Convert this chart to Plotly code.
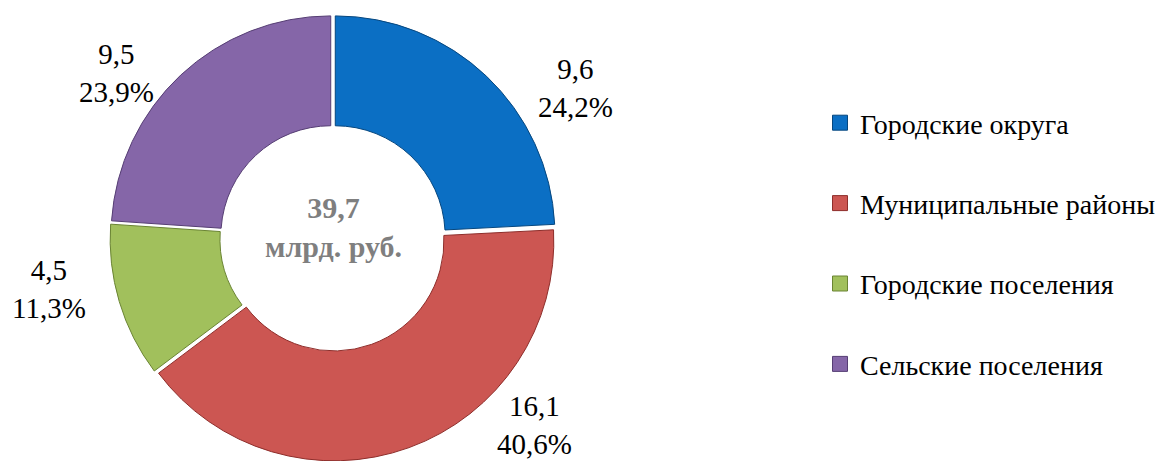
import plotly.graph_objects as go

# ---- data ----
categories = ["Городские округа", "Муниципальные районы", "Городские поселения", "Сельские поселения"]
values = [9.6, 16.1, 4.5, 9.5]
unit = "млрд. руб."

# ---- styles ----
colors = ["#0B6FC4", "#CC5652", "#A1C05C", "#8566A8"]
edge_colors = ["#06477F", "#8E2E2B", "#6A8433", "#563E74"]
label_pos_px = [(575, 88), (534, 425), (49, 289), (116, 73)]
center_pos_px = (333, 227)

W, H = 1168, 461
FONT = "Liberation Serif"


def fmt(x, d=1):
    return f"{x:.{d}f}".replace(".", ",")


total = sum(values)
pcts = [v / total * 100 for v in values]

fig = go.Figure()

cx, cy, half = 333, 240, 225
fig.add_trace(go.Pie(
    labels=categories,
    values=values,
    hole=0.5,
    sort=False,
    direction="clockwise",
    rotation=0,
    pull=0.015,
    textinfo="none",
    showlegend=False,
    marker=dict(colors=colors, line=dict(color=edge_colors, width=1)),
    domain=dict(x=[(cx - half) / W, (cx + half) / W], y=[max(0, 1 - (cy + half) / H), 1 - (cy - half) / H]),
))

# legend entries
for name, c, ec in zip(categories, colors, edge_colors):
    fig.add_trace(go.Scatter(
        x=[None], y=[None], mode="markers", name=name, legendgroup=name,
        marker=dict(symbol="square", size=15, color=c, line=dict(color=ec, width=1)),
    ))

annotations = []
for v, p, (px, py) in zip(values, pcts, label_pos_px):
    annotations.append(dict(
        x=px / W, y=1 - py / H, xref="paper", yref="paper",
        text=f"{fmt(v)}<br>{fmt(p)}%", showarrow=False,
        xanchor="center", yanchor="middle", align="center",
        font=dict(family=FONT, size=29, color="black"),
    ))
annotations.append(dict(
    x=center_pos_px[0] / W, y=1 - center_pos_px[1] / H, xref="paper", yref="paper",
    text=f"<b>{fmt(total)}<br>{unit}</b>", showarrow=False,
    xanchor="center", yanchor="middle", align="center",
    font=dict(family=FONT, size=30, color="#7F7F7F"),
))

fig.update_layout(
    width=W, height=H,
    margin=dict(l=0, r=0, t=0, b=0),
    paper_bgcolor="white", plot_bgcolor="white",
    font=dict(family=FONT),
    xaxis=dict(visible=False), yaxis=dict(visible=False),
    annotations=annotations,
    legend=dict(
        x=820 / W, xanchor="left", y=1 - 98 / H, yanchor="top",
        font=dict(family=FONT, size=28, color="black"),
        tracegroupgap=41, traceorder="grouped",
        bgcolor="rgba(0,0,0,0)",
    ),
)

fig.write_html("out.html", config={"displayModeBar": False},
               post_script="document.body.style.margin='0px';document.body.style.overflow='hidden';")
